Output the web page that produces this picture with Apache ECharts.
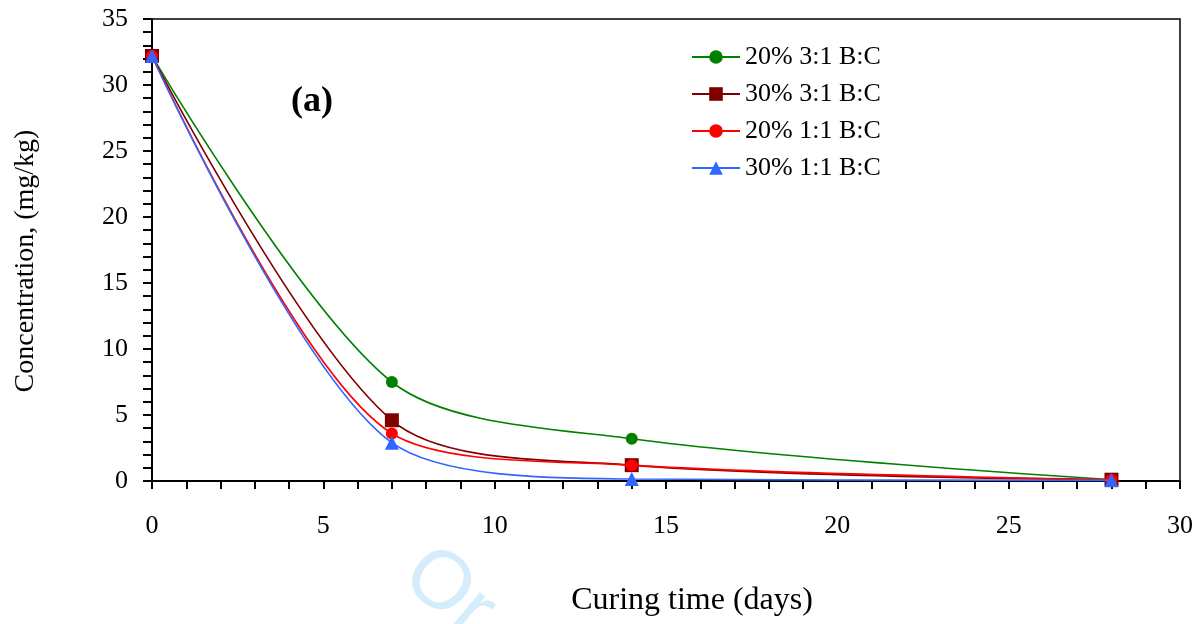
<!DOCTYPE html>
<html>
<head>
<meta charset="utf-8">
<script src="https://cdn.jsdelivr.net/npm/echarts@6/dist/echarts.min.js"></script>
<style>
  html, body { margin: 0; padding: 0; background: #fff; }
  #chart { width: 1202px; height: 624px; }
</style>
</head>
<body>
<div id="chart"></div>
<script>
// curing time in days
const days = [0, 7, 14, 28]
const seriesNames = ['20% 3:1 B:C', '30% 3:1 B:C', '20% 1:1 B:C', '30% 1:1 B:C']
const conc20_31 = [32.2, 7.5, 3.2, 0.1]
const conc30_31 = [32.2, 4.6, 1.2, 0.1]
const conc20_11 = [32.2, 3.6, 1.2, 0.1]
const conc30_11 = [32.2, 2.9, 0.15, 0.05]

const font = 'Liberation Serif, Times New Roman, serif'
const colors = ['#008000', '#800000', '#ff0000', '#3366ff']
const symbols = ['circle', 'rect', 'circle', 'triangle']
const sizes = [12, 14, 12, 14]

function pairs(ys) {
  return days.map((d, i) => [d, ys[i]])
}

const allData = [conc20_31, conc30_31, conc20_11, conc30_11]

const chart = echarts.init(document.getElementById('chart'))
chart.setOption({
  animation: false,
  textStyle: { fontFamily: font, color: '#000' },
  grid: {
    left: 152,
    right: 22,
    top: 19,
    bottom: 143,
    show: true,
    borderColor: '#000',
    borderWidth: 1.5
  },
  legend: {
    orient: 'vertical',
    left: 686,
    top: 39,
    itemWidth: 48,
    itemHeight: 17,
    itemGap: 11,
    textStyle: { fontFamily: font, fontSize: 26, color: '#000' },
    data: seriesNames
  },
  xAxis: {
    type: 'value',
    min: 0,
    max: 30,
    interval: 5,
    name: 'Curing time (days)',
    nameLocation: 'middle',
    nameGap: 104,
    nameTextStyle: { fontFamily: font, fontSize: 32, color: '#000', padding: [0, 0, 0, 52] },
    axisLine: { lineStyle: { color: '#000', width: 2 } },
    axisTick: { show: true, inside: false, length: 8, lineStyle: { color: '#000', width: 2 } },
    minorTick: { show: true, splitNumber: 5, length: 8, lineStyle: { color: '#000', width: 2 } },
    axisLabel: { fontFamily: font, fontSize: 26, color: '#000', margin: 32 },
    splitLine: { show: false }
  },
  yAxis: {
    type: 'value',
    min: 0,
    max: 35,
    interval: 5,
    name: 'Concentration, (mg/kg)',
    nameLocation: 'middle',
    nameGap: 112,
    nameTextStyle: { fontFamily: font, fontSize: 28, color: '#000', padding: [0, 22, 0, 0] },
    axisLine: { lineStyle: { color: '#000', width: 2 } },
    axisTick: { show: true, inside: false, length: 9, lineStyle: { color: '#000', width: 2 } },
    minorTick: { show: true, splitNumber: 5, length: 9, lineStyle: { color: '#000', width: 2 } },
    axisLabel: { fontFamily: font, fontSize: 26, color: '#000', margin: 24 },
    splitLine: { show: false }
  },
  graphic: [
    {
      type: 'text',
      left: 291,
      top: 84,
      style: { text: '(a)', font: 'bold 36px ' + font, fill: '#000' }
    },
    {
      // faint watermark cut off at the bottom edge
      type: 'text',
      x: 440,
      y: 532,
      rotation: -0.7,
      z: -10,
      style: { text: 'Or', font: '82px Liberation Sans, Arial, sans-serif', fill: '#d4ecfb' }
    }
  ],
  series: seriesNames.map((name, i) => ({
    name: name,
    type: 'line',
    smooth: 0.3,
    data: pairs(allData[i]),
    symbol: symbols[i],
    symbolSize: sizes[i],
    color: colors[i],
    lineStyle: { color: colors[i], width: 1.6 },
    itemStyle: { color: colors[i] },
    z: 2 + i
  }))
})
</script>
</body>
</html>
